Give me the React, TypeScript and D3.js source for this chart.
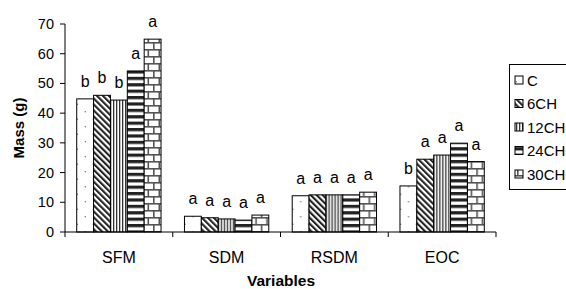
import React from "react";
import * as d3 from "d3";

const categories = ["SFM", "SDM", "RSDM", "EOC"];
const seriesNames = ["C", "6CH", "12CH", "24CH", "30CH"];
const valuesC = [44.8, 5.3, 12.2, 15.5];
const values6CH = [46.0, 4.8, 12.5, 24.5];
const values12CH = [44.4, 4.4, 12.5, 25.9];
const values24CH = [54.2, 4.0, 12.5, 29.9];
const values30CH = [64.9, 5.7, 13.4, 23.7];
const lettersC = ["b", "a", "a", "b"];
const letters6CH = ["b", "a", "a", "a"];
const letters12CH = ["b", "a", "a", "a"];
const letters24CH = ["a", "a", "a", "a"];
const letters30CH = ["a", "a", "a", "a"];
const yTicks = [0, 10, 20, 30, 40, 50, 60, 70];

const allValues = [valuesC, values6CH, values12CH, values24CH, values30CH];
const allLetters = [lettersC, letters6CH, letters12CH, letters24CH, letters30CH];
const patternIds = ["pC", "p6", "p12", "p24", "p30"];

const W = 566;
const H = 289;
const FONT = "'Liberation Sans', Arial, sans-serif";

export default function App() {
  const x0 = d3.scaleBand<string>().domain(categories).range([65, 496]).padding(0);
  const x1 = d3
    .scaleBand<string>()
    .domain(seriesNames)
    .range([0, x0.bandwidth()])
    .paddingInner(0)
    .paddingOuter(0.695);
  const y = d3.scaleLinear().domain([0, 70]).range([232, 24]);

  const boundaries = [...categories.map((c) => x0(c)!), 496];

  const legendTop = 64;
  const rowY = (i: number) => 80 + i * 23.5;

  return (
    <svg
      width={W}
      height={H}
      style={{ position: "absolute", left: 0, top: 0, display: "block" }}
      fontFamily={FONT}
    >
      <defs>
        <pattern id="pC" patternUnits="userSpaceOnUse" width={16} height={15}>
          <rect width={16} height={15} fill="#fff" />
          <circle cx={4.3} cy={6.7} r={0.8} fill="#777" />
          <circle cx={12.3} cy={14.2} r={0.8} fill="#777" />
          <circle cx={12.3} cy={-0.8} r={0.8} fill="#777" />
        </pattern>
        <pattern
          id="p6"
          patternUnits="userSpaceOnUse"
          width={4.2}
          height={10}
          patternTransform="rotate(-45)"
        >
          <rect width={4.2} height={10} fill="#fff" />
          <rect width={2.1} height={10} fill="#222" />
        </pattern>
        <pattern id="p12" patternUnits="userSpaceOnUse" width={3} height={10}>
          <rect width={3} height={10} fill="#fff" />
          <rect width={1.3} height={10} fill="#333" />
        </pattern>
        <pattern id="p24" patternUnits="userSpaceOnUse" width={10} height={6.4}>
          <rect width={10} height={6.4} fill="#fff" />
          <rect width={10} height={3.2} fill="#222" />
        </pattern>
        <pattern id="p30" patternUnits="userSpaceOnUse" width={11} height={14}>
          <rect width={11} height={14} fill="#fff" />
          <rect y={0} width={11} height={1.6} fill="#555" />
          <rect y={7} width={11} height={1.6} fill="#555" />
          <rect x={0} y={0} width={1.6} height={7} fill="#555" />
          <rect x={5.5} y={7} width={1.6} height={7} fill="#555" />
        </pattern>
      </defs>

      {/* bars */}
      {categories.map((cat, ci) => (
        <g key={cat} transform={`translate(${x0(cat)},0)`}>
          {seriesNames.map((s, si) => {
            const v = allValues[si][ci];
            const bx = x1(s)!;
            const bw = x1.bandwidth();
            return (
              <g key={s}>
                <rect
                  x={bx}
                  y={y(v)}
                  width={bw}
                  height={y(0) - y(v)}
                  fill={`url(#${patternIds[si]})`}
                  stroke="#000"
                  strokeWidth={1}
                />
                <text
                  x={bx + bw / 2}
                  y={y(v) - 12}
                  textAnchor="middle"
                  fontSize={16}
                  fill="#000"
                >
                  {allLetters[si][ci]}
                </text>
              </g>
            );
          })}
        </g>
      ))}

      {/* y axis */}
      <line x1={65} x2={65} y1={y(70)} y2={y(0)} stroke="#000" strokeWidth={1} />
      {yTicks.map((t) => (
        <g key={t}>
          <line x1={60} x2={65} y1={y(t)} y2={y(t)} stroke="#000" strokeWidth={1} />
          <text x={54} y={y(t) + 5} textAnchor="end" fontSize={14.5} fill="#000">
            {t}
          </text>
        </g>
      ))}

      {/* x axis */}
      <line x1={65} x2={496} y1={y(0)} y2={y(0)} stroke="#000" strokeWidth={1} />
      {boundaries.map((b, i) => (
        <line key={i} x1={b} x2={b} y1={y(0)} y2={y(0) + 5} stroke="#000" strokeWidth={1} />
      ))}
      {categories.map((c) => (
        <text
          key={c}
          x={x0(c)! + x0.bandwidth() / 2}
          y={262.5}
          textAnchor="middle"
          fontSize={16}
          fill="#000"
        >
          {c}
        </text>
      ))}

      {/* axis titles */}
      <text
        x={281}
        y={286}
        textAnchor="middle"
        fontSize={15.5}
        fontWeight="bold"
        fill="#000"
      >
        Variables
      </text>
      <text
        transform={`translate(24,128) rotate(-90)`}
        textAnchor="middle"
        fontSize={15}
        fontWeight="bold"
        fill="#000"
      >
        Mass (g)
      </text>

      {/* legend */}
      <rect
        x={509.5}
        y={legendTop + 0.5}
        width={80}
        height={125}
        fill="#fff"
        stroke="#000"
        strokeWidth={1}
      />
      {seriesNames.map((s, i) => (
        <g key={s}>
          <rect
            x={515}
            y={rowY(i) - 4}
            width={8}
            height={8}
            fill={`url(#${patternIds[i]})`}
            stroke="#000"
            strokeWidth={1}
          />
          <text x={527} y={rowY(i) + 5.5} fontSize={15} fill="#000">
            {s}
          </text>
        </g>
      ))}
    </svg>
  );
}
